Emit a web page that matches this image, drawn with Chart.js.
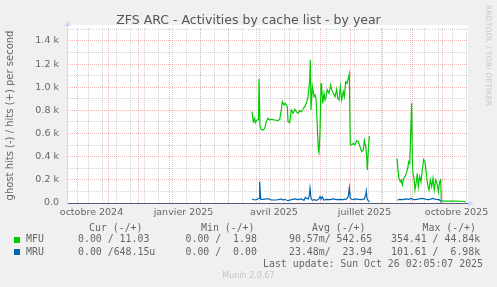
<!DOCTYPE html>
<html>
<head>
<meta charset="utf-8">
<script src="https://cdn.jsdelivr.net/npm/chart.js@4.4.0/dist/chart.umd.min.js"></script>
<style>
  html, body { margin: 0; padding: 0; background: #f0f0f0; }
  #wrap { position: relative; width: 497px; height: 287px; overflow: hidden; }
  #chart { position: absolute; left: 0; top: 0; }
  #title { position: absolute; left: 0; width: 497px; top: 12px; text-align: center; font-family: "DejaVu Sans", sans-serif; font-size: 12.5px; line-height: 15px; color: #555; }
  .leg { position: absolute; font-family: "DejaVu Sans Mono", monospace; font-size: 9.9px; line-height: 12px; color: #666; white-space: pre; }
  .box { position: absolute; width: 6px; height: 6px; }
  #munin { position: absolute; left: 0; width: 497px; top: 271px; text-align: center; font-family: "DejaVu Sans", sans-serif; font-size: 8px; line-height: 10px; color: #c4c4c4; }
  #rrd { position: absolute; left: 484px; top: 5px; writing-mode: vertical-rl; font-family: "DejaVu Sans", sans-serif; font-size: 7.5px; color: #c8c8c8; letter-spacing: 0.2px; }
</style>
</head>
<body>
<div id="wrap">
  <canvas id="chart" width="497" height="287"></canvas>
  <div id="title">ZFS ARC - Activities by cache list - by year</div>
  <div id="rrd">RRDTOOL / TOBI OETIKER</div>

  <div class="leg" style="left:89px;top:221.5px">Cur (-/+)</div>
  <div class="leg" style="left:201px;top:221.5px">Min (-/+)</div>
  <div class="leg" style="left:312px;top:221.5px">Avg (-/+)</div>
  <div class="leg" style="left:422.5px;top:221.5px">Max (-/+)</div>

  <div class="box" style="left:14px;top:236.5px;background:#00cc00"></div>
  <div class="leg" style="left:26px;top:233.3px">MFU</div>
  <div class="leg" style="left:78px;top:233.3px">0.00 / 11.03</div>
  <div class="leg" style="left:185.5px;top:233.3px">0.00 /  1.98</div>
  <div class="leg" style="left:289px;top:233.3px">90.57m/ 542.65</div>
  <div class="leg" style="left:391px;top:233.3px">354.41 / 44.84k</div>

  <div class="box" style="left:14px;top:248.8px;background:#0066b3"></div>
  <div class="leg" style="left:26px;top:245.7px">MRU</div>
  <div class="leg" style="left:78px;top:245.7px">0.00 /648.15u</div>
  <div class="leg" style="left:185.5px;top:245.7px">0.00 /  0.00</div>
  <div class="leg" style="left:289px;top:245.7px">23.48m/  23.94</div>
  <div class="leg" style="left:391px;top:245.7px">101.61 /  6.98k</div>

  <div class="leg" style="right:14px;top:258px">Last update: Sun Oct 26 02:05:07 2025</div>
  <div id="munin">Munin 2.0.67</div>
</div>
<script>
// x axis is "days since 2024-09-21" (400 day window, like munin's year graph)
const monthStartDays = [10, 41, 71, 102, 133, 161, 192, 222, 253, 283, 314, 345, 375];
const minorDays = [21, 35, 49, 63, 77, 91, 105, 119, 133, 147, 161, 175, 189, 203, 217, 231, 245, 259, 273, 287, 301, 315, 329, 343, 357, 371, 385, 399];
const labelDays = [24.5, 116.5, 207, 297.5, 389.5];
const labelTexts = ['octobre 2024', 'janvier 2025', 'avril 2025', 'juillet 2025', 'octobre 2025'];

const yMajorTicks = [0, 200, 400, 600, 800, 1000, 1200, 1400];
const yMinorTicks = [100, 300, 500, 700, 900, 1100, 1300, 1500];

// MFU hits per second
const mfuDays = [185, 186.3, 187.7, 188.3, 190, 191.5, 192, 193, 194.3, 196, 197.7, 199.3, 201, 202.7, 204.3, 207.7, 211, 212.7,
  214.3, 215.3, 217, 218.3, 220.3, 221, 222.7, 224.3, 226, 227.7, 229.3, 231, 232.7, 234.3, 236, 237.7, 239.3, 241, 242.7, 243.3,
  244, 245.3, 247, 248, 249, 250, 251.3, 252, 253, 254, 254.7, 255.7, 257, 258, 259, 260.3, 262, 263.7, 264.7, 266.3, 268, 269.7,
  270.7, 272, 273.3, 274.7, 276.3, 277.3, 278.7, 280, 281.3, 282.3, 283.3, 284.7, 286.3, 288, 289.7, 291.3, 293, 294.7, 296.3,
  297.3, 298.7, 299.7, 300.3, 301.3, 302.3, 316,
  330, 331, 332, 333.3, 334.3, 335.3, 336.7, 338, 339.3, 340.7, 341.7, 342.7, 343.7, 344.7, 345.3, 346, 347, 348, 349.3, 350.3,
  351.3, 352.7, 354, 355.3, 356.7, 358, 359.3, 360.7, 362, 363.3, 364.7, 366, 367.3, 368.7, 370, 371.3, 372.7, 373.7, 374.3,
  376, 388, 395, 399];
const mfuValues = [789, 703, 732, 694, 717, 720, 1072, 659, 636, 631, 645, 703, 732, 717, 723, 717, 711, 723,
  804, 876, 847, 861, 832, 703, 694, 804, 775, 810, 789, 775, 798, 789, 810, 832, 861, 919, 1063, 1236,
  804, 1005, 919, 933, 905, 717, 458, 435, 602, 1034, 991, 861, 948, 890, 919, 977, 948, 1020, 977, 948, 919, 982,
  905, 890, 1005, 890, 962, 919, 1048, 1034, 1077, 1115, 501, 501, 516, 501, 539, 530, 487, 444, 458,
  544, 487, 400, 285, 458, 579, null,
  386, 285, 213, 184, 199, 156, 213, 228, 256, 300, 357, 343, 600, 861, 372, 256, 213, 112, 184, 256,
  141, 228, 184, 285, 377, 357, 256, 156, 112, 199, 141, 213, 112, 199, 170, 98, 184, 199, 26,
  17, 16, 15, 11];

// MRU hits per second
const mruDays = [185, 187.7, 190.3, 192, 192.7, 193.7, 196, 199.3, 201.7, 204.3, 209.3, 212.7, 214.3, 216, 217.7, 221, 224.3,
  227.7, 231, 234.3, 237, 238.3, 239.7, 241.3, 242.2, 243, 244, 245.3, 247.3, 249.7, 252, 253, 254, 255.3, 256.7, 259.7, 263,
  266.3, 269.7, 273, 276.3, 279.7, 281.3, 282.3, 283.3, 285.3, 288, 291.3, 294.7, 297.3, 298.7, 299.3, 300, 301.3, 302.7, 316,
  330.3, 333, 336, 339, 342, 344, 346, 349, 352, 356, 359, 362, 366, 369, 372, 373.5, 374.5];
const mruValues = [35, 26, 32, 40, 184, 32, 32, 35, 35, 26, 26, 32, 35, 26, 32, 20, 29,
  35, 29, 35, 23, 49, 40, 35, 60, 127, 40, 23, 29, 23, 35, 55, 32, 55, 26, 32, 29,
  35, 29, 32, 29, 35, 55, 132, 40, 29, 35, 32, 29, 35, 69, 104, 40, 17, 14, null,
  26, 32, 29, 35, 32, 40, 32, 29, 35, 40, 32, 29, 40, 32, 29, 20, 2];

const MAJOR_GRID = 'rgba(230, 120, 120, 0.55)';
const MINOR_GRID = 'rgba(175, 175, 175, 0.55)';
const FONT_COLOR = '#666666';

function toPoints(days, values) {
  return days.map((d, i) => ({ x: d, y: values[i] }));
}

const xTicks = []
  .concat(monthStartDays.map(v => ({ value: v, kind: 'major' })))
  .concat(minorDays.map(v => ({ value: v, kind: 'minor' })))
  .concat(labelDays.map((v, i) => ({ value: v, kind: 'label', text: labelTexts[i] })))
  .sort((a, b) => a.value - b.value);

const yTicks = []
  .concat(yMajorTicks.map(v => ({ value: v, kind: 'major' })))
  .concat(yMinorTicks.map(v => ({ value: v, kind: 'minor' })))
  .sort((a, b) => a.value - b.value);

function gridColor(ctx) {
  const t = ctx.tick;
  if (!t) return 'transparent';
  if (t.kind === 'major') return MAJOR_GRID;
  if (t.kind === 'minor') return MINOR_GRID;
  return 'transparent';
}

// white canvas behind the plot, and the little rrdtool arrows
const canvasPlugin = {
  id: 'rrdCanvas',
  beforeDraw(chart) {
    const { ctx, chartArea: a } = chart;
    ctx.save();
    ctx.fillStyle = '#ffffff';
    ctx.fillRect(a.left, a.top - 3, a.right - a.left + 1, a.bottom - a.top + 3);
    ctx.restore();
  },
  afterDraw(chart) {
    const { ctx, chartArea: a } = chart;
    ctx.save();
    ctx.fillStyle = '#cfd6f8';
    ctx.strokeStyle = '#cfd6f8';
    ctx.lineWidth = 1;
    ctx.beginPath();
    ctx.moveTo(a.left + 0.5, a.top);
    ctx.lineTo(a.left + 0.5, a.top - 2);
    ctx.stroke();
    ctx.beginPath();
    ctx.moveTo(a.left - 2.5, a.top - 2);
    ctx.lineTo(a.left + 3.5, a.top - 2);
    ctx.lineTo(a.left + 0.5, a.top - 7);
    ctx.closePath();
    ctx.fill();
    ctx.beginPath();
    ctx.moveTo(a.right + 1, a.bottom - 2.5);
    ctx.lineTo(a.right + 1, a.bottom + 3.5);
    ctx.lineTo(a.right + 7, a.bottom + 0.5);
    ctx.closePath();
    ctx.fill();
    ctx.restore();
  }
};

new Chart(document.getElementById('chart').getContext('2d'), {
  type: 'line',
  data: {
    datasets: [
      {
        label: 'MFU',
        data: toPoints(mfuDays, mfuValues),
        borderColor: '#00cc00',
        borderWidth: 1.2,
        pointRadius: 0,
        tension: 0,
        spanGaps: false,
        fill: false,
      },
      {
        label: 'MRU',
        data: toPoints(mruDays, mruValues),
        borderColor: '#0066b3',
        borderWidth: 1.2,
        pointRadius: 0,
        tension: 0,
        spanGaps: false,
        fill: false,
      },
    ],
  },
  options: {
    responsive: false,
    animation: false,
    layout: { padding: { left: 0, right: 30, top: 28, bottom: 64 } },
    plugins: {
      legend: { display: false },
      tooltip: { enabled: false },
    },
    scales: {
      x: {
        type: 'linear',
        min: 0,
        max: 400,
        afterBuildTicks: scale => { scale.ticks = xTicks.map(t => Object.assign({}, t)); },
        afterFit: scale => { scale.height = 20; },
        ticks: {
          autoSkip: false,
          maxRotation: 0,
          padding: 4,
          color: FONT_COLOR,
          font: { family: 'DejaVu Sans', size: 9.5 },
          callback: (v, i, ticks) => ticks[i].text || '',
        },
        grid: { color: gridColor, drawTicks: false, lineWidth: 1 },
        border: { color: '#5a5a78', width: 1, dash: [1, 1] },
      },
      y: {
        type: 'linear',
        min: 0,
        max: 1512,
        afterBuildTicks: scale => { scale.ticks = yTicks.map(t => Object.assign({}, t)); },
        afterFit: scale => { scale.width = 67; },
        ticks: {
          autoSkip: false,
          padding: 8,
          color: FONT_COLOR,
          font: { family: 'DejaVu Sans', size: 9.5 },
          callback: (v, i, ticks) => {
            if (ticks[i].kind !== 'major') return '';
            return v === 0 ? '0.0' : (v / 1000).toFixed(1) + ' k';
          },
        },
        grid: { color: gridColor, drawTicks: false, lineWidth: 1 },
        border: { color: '#cfd6f8', width: 1, dash: [1, 1] },
        title: {
          display: true,
          text: 'ghost hits (-) / hits (+) per second',
          color: FONT_COLOR,
          font: { family: 'DejaVu Sans', size: 10 },
          padding: { top: 4, bottom: 0 },
        },
      },
    },
  },
  plugins: [canvasPlugin],
});
</script>
</body>
</html>
